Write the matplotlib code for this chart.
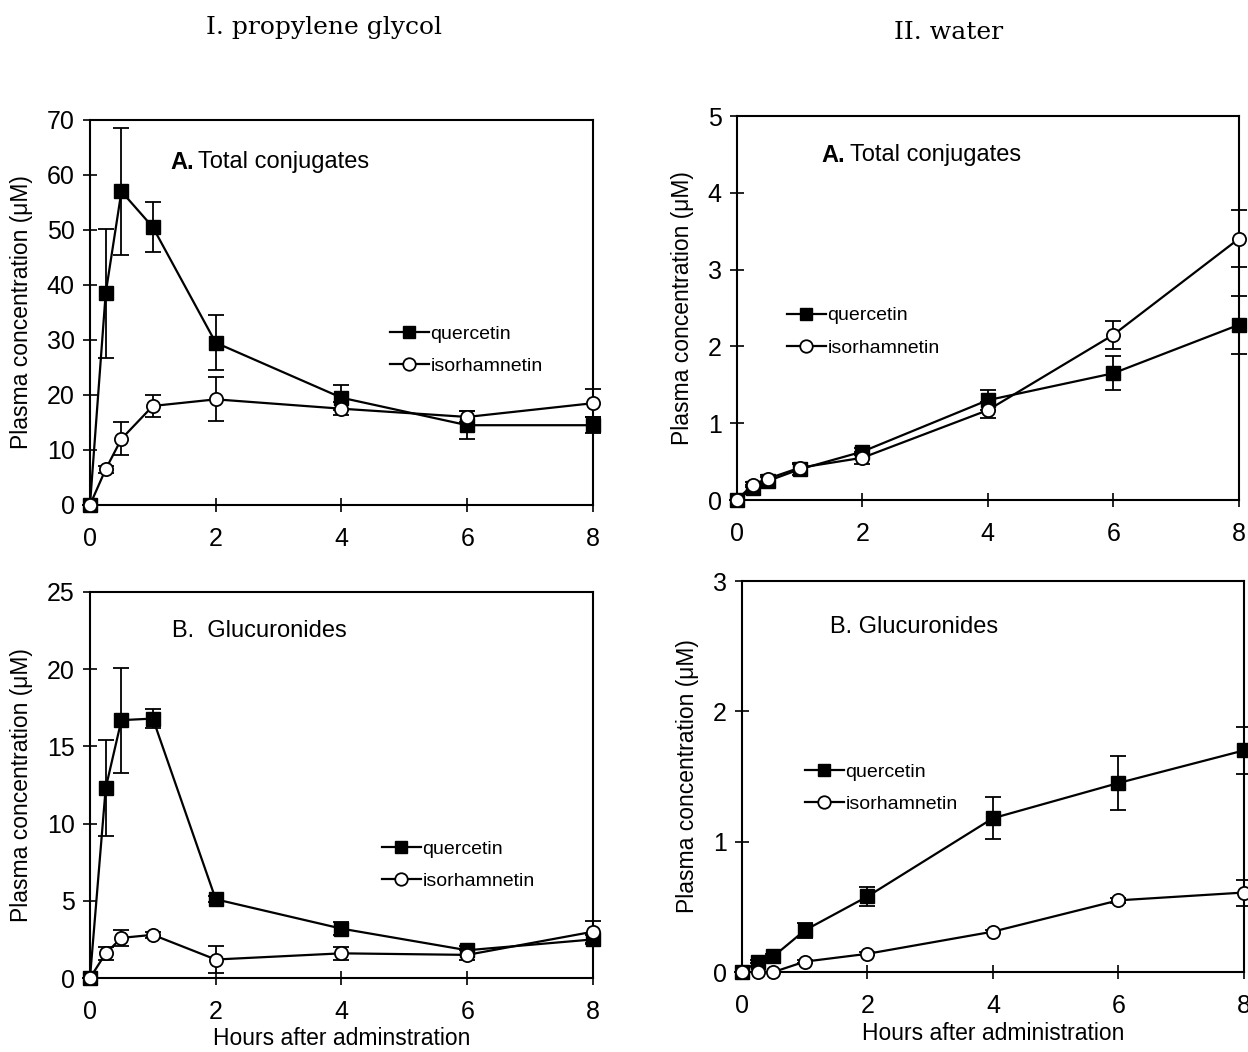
'''
Plasma quercetin / isorhamnetin conjugates after oral dosing
'''
import matplotlib
matplotlib.use('Agg')
import matplotlib.pyplot as plt
from matplotlib.lines import Line2D

plt.rcParams['font.family'] = ['Liberation Sans', 'DejaVu Sans']

# sampling times (h)
hours = [0, 0.25, 0.5, 1, 2, 4, 6, 8]

# I. propylene glycol, A. total conjugates
pg_tot_q = [0, 38.5, 57, 50.5, 29.5, 19.5, 14.5, 14.5]
pg_tot_q_err = [0, 11.7, 11.6, 4.5, 5.0, 2.3, 2.5, 1.5]
pg_tot_i = [0, 6.5, 12, 18, 19.2, 17.5, 16, 18.5]
pg_tot_i_err = [0, 0.6, 3.0, 2.0, 4.0, 1.2, 1.0, 2.5]

# I. propylene glycol, B. glucuronides
pg_glu_q = [0, 12.3, 16.7, 16.8, 5.1, 3.2, 1.8, 2.5]
pg_glu_q_err = [0, 3.1, 3.4, 0.6, 0.2, 0.4, 0.3, 0.3]
pg_glu_i = [0, 1.6, 2.6, 2.8, 1.2, 1.6, 1.5, 3.0]
pg_glu_i_err = [0, 0.4, 0.5, 0.2, 0.9, 0.4, 0.3, 0.7]

# II. water, A. total conjugates
w_tot_q = [0, 0.15, 0.25, 0.40, 0.63, 1.30, 1.65, 2.28]
w_tot_q_err = [0, 0.04, 0.05, 0.08, 0.05, 0.13, 0.22, 0.38]
w_tot_i = [0, 0.20, 0.28, 0.42, 0.55, 1.17, 2.15, 3.40]
w_tot_i_err = [0, 0.03, 0.04, 0.05, 0.08, 0.10, 0.18, 0.37]

# II. water, B. glucuronides
w_glu_q = [0, 0.08, 0.12, 0.32, 0.58, 1.18, 1.45, 1.70]
w_glu_q_err = [0, 0.01, 0.02, 0.06, 0.07, 0.16, 0.21, 0.18]
w_glu_i = [0, 0, 0, 0.08, 0.14, 0.31, 0.55, 0.61]
w_glu_i_err = [0, 0, 0, 0.01, 0.01, 0.01, 0.02, 0.10]

ylabel = 'Plasma concentration (\u03bcM)'

# legend handles without the error bar glyphs
leg_handles = [
    Line2D([], [], color='black', lw=1.6, marker='s', ms=9,
           mfc='black', mec='black'),
    Line2D([], [], color='black', lw=1.6, marker='o', ms=9,
           mfc='white', mec='black', mew=1.3),
]
leg_labels = ['quercetin', 'isorhamnetin']


def draw_panel(ax, q, qe, i, ie, ymax, ystep, label, tag_bold, tag_pos,
               leg_pos, xlabel=None, xpad=6):
    # quercetin: filled squares, isorhamnetin: open circles
    ax.errorbar(hours, q, yerr=qe, color='black', lw=1.6, marker='s',
                ms=9.5, mfc='black', mec='black', capsize=6, elinewidth=1.3,
                capthick=1.3, clip_on=False, zorder=3)
    ax.errorbar(hours, i, yerr=ie, color='black', lw=1.6, marker='o',
                ms=9.5, mfc='white', mec='black', mew=1.3, capsize=6,
                elinewidth=1.3, capthick=1.3, clip_on=False, zorder=4)
    ax.set_xlim(0, 8)
    ax.set_ylim(0, ymax)
    ax.set_xticks(range(0, 9, 2))
    ax.set_yticks([k * ystep for k in range(int(round(ymax / ystep)) + 1)])
    ax.tick_params(direction='inout', length=10, width=1.2, labelsize=18,
                   pad=6)
    ax.tick_params(axis='x', pad=11)
    for s in ax.spines.values():
        s.set_linewidth(1.5)
    ax.set_ylabel(ylabel, fontsize=16.5, labelpad=10)
    if xlabel:
        ax.set_xlabel(xlabel, fontsize=16.5, labelpad=xpad)
    if tag_bold:
        ax.text(tag_pos[0], tag_pos[1], label[:2], transform=ax.transAxes,
                fontsize=17, fontweight='bold', va='center')
        ax.text(tag_pos[0] + 0.056, tag_pos[1], label[3:],
                transform=ax.transAxes, fontsize=17, va='center')
    else:
        ax.text(tag_pos[0], tag_pos[1], label, transform=ax.transAxes,
                fontsize=17, va='center')
    ax.legend(leg_handles, leg_labels, loc='upper left',
              bbox_to_anchor=leg_pos, frameon=False, fontsize=14,
              handlelength=2.0, handletextpad=0.1, borderpad=0,
              borderaxespad=0, labelspacing=0.75)


fig = plt.figure(figsize=(12.48, 10.52), dpi=100)

ax1 = fig.add_axes([0.0721, 0.520, 0.403, 0.366])
ax2 = fig.add_axes([0.5905, 0.5247, 0.402, 0.365])
ax3 = fig.add_axes([0.0721, 0.0703, 0.403, 0.367])
ax4 = fig.add_axes([0.5946, 0.076, 0.402, 0.3717])

draw_panel(ax1, pg_tot_q, pg_tot_q_err, pg_tot_i, pg_tot_i_err, 70, 10,
           'A. Total conjugates', True, (0.159, 0.89), (0.596, 0.467))
draw_panel(ax2, w_tot_q, w_tot_q_err, w_tot_i, w_tot_i_err, 5, 1,
           'A. Total conjugates', True, (0.169, 0.898), (0.099, 0.503))
draw_panel(ax3, pg_glu_q, pg_glu_q_err, pg_glu_i, pg_glu_i_err, 25, 5,
           'B.  Glucuronides', False, (0.163, 0.899), (0.58, 0.357),
           xlabel='Hours after adminstration', xpad=2)
draw_panel(ax4, w_glu_q, w_glu_q_err, w_glu_i, w_glu_i_err, 3, 1,
           'B. Glucuronides', False, (0.175, 0.882), (0.125, 0.534),
           xlabel='Hours after administration', xpad=3)

fig.text(0.26, 0.974, 'I. propylene glycol', ha='center', va='center',
         fontsize=18, family='DejaVu Serif')
fig.text(0.76, 0.969, 'II. water', ha='center', va='center',
         fontsize=18, family='DejaVu Serif')

fig.savefig('out.png', dpi=100)
